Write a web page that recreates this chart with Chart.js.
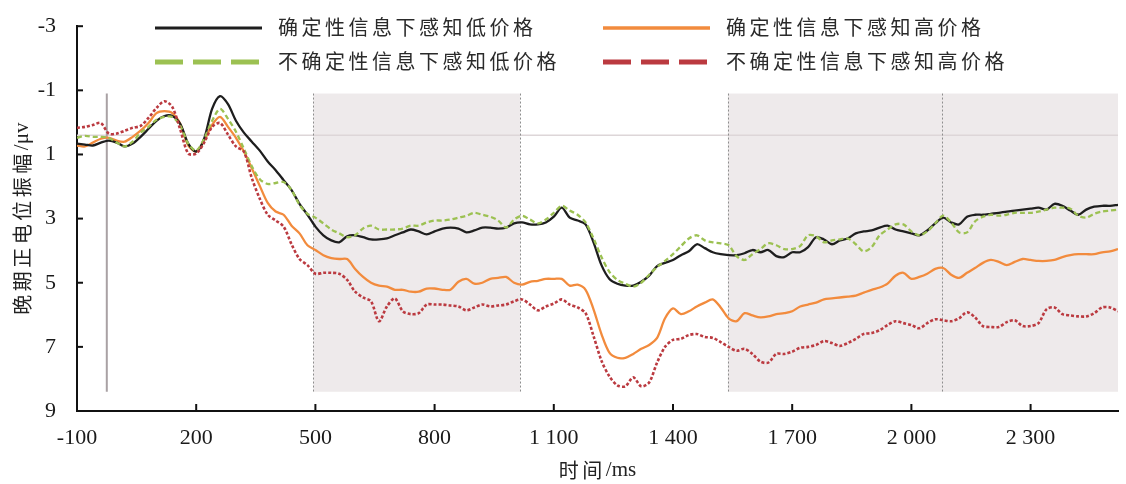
<!DOCTYPE html>
<html>
<head>
<meta charset="utf-8">
<script src="https://cdn.jsdelivr.net/npm/chart.js@4.4.1/dist/chart.umd.min.js"></script>
<style>
  html, body { margin: 0; padding: 0; background: #ffffff; }
  canvas { display: block; }
</style>
</head>
<body>
<canvas id="erp" width="1126" height="484"></canvas>
<script>
// Sampling grid of the averaged waveforms (ms)
const sampleStartMs = -100;
const sampleStepMs = 20;

// Late positive potential amplitude (μV), one value per 20 ms sample
const certainLow = [
  0.66, 0.69, 0.72, 0.63, 0.57, 0.63, 0.75, 0.66, 0.45, 0.20,
  -0.05, -0.20, -0.20, 0.05, 0.66, 0.91, 0.51, -0.42, -0.82, -0.57,
  -0.05, 0.32, 0.60, 0.88, 1.22, 1.49, 1.80, 2.11, 2.54, 2.88,
  3.25, 3.52, 3.68, 3.74, 3.55, 3.52, 3.58, 3.65, 3.65, 3.62,
  3.52, 3.43, 3.34, 3.40, 3.49, 3.40, 3.31, 3.28, 3.31, 3.43,
  3.37, 3.28, 3.28, 3.31, 3.28, 3.15, 3.12, 3.18, 3.18, 3.12,
  2.94, 2.66, 2.97, 3.06, 3.18, 3.74, 4.45, 4.88, 5.03, 5.09,
  5.09, 4.97, 4.78, 4.48, 4.38, 4.29, 4.14, 4.02, 3.80, 3.92,
  4.05, 4.11, 4.14, 4.14, 4.08, 3.98, 4.05, 3.98, 4.17, 4.20,
  4.05, 4.05, 3.89, 3.58, 3.65, 3.80, 3.68, 3.62, 3.46, 3.40,
  3.37, 3.28, 3.22, 3.34, 3.40, 3.46, 3.52, 3.37, 3.15, 2.97,
  3.12, 3.18, 2.94, 2.88, 2.88, 2.85, 2.82, 2.78, 2.75, 2.72,
  2.69, 2.66, 2.72, 2.54, 2.60, 2.75, 2.88, 2.72, 2.63, 2.60,
  2.60, 2.57
];
const certainHigh = [
  0.72, 0.75, 0.63, 0.51, 0.48, 0.57, 0.60, 0.45, 0.26, 0.02,
  -0.29, -0.35, -0.29, 0.05, 0.72, 0.91, 0.57, 0.08, -0.17, 0.14,
  0.48, 0.91, 1.43, 1.98, 2.51, 2.78, 2.88, 3.22, 3.46, 3.83,
  3.98, 4.14, 4.23, 4.26, 4.26, 4.57, 4.82, 5.00, 5.09, 5.12,
  5.22, 5.22, 5.28, 5.28, 5.18, 5.18, 5.22, 5.22, 4.97, 4.88,
  5.03, 5.00, 4.88, 4.85, 4.82, 5.00, 5.06, 4.97, 4.94, 4.88,
  4.88, 4.88, 5.09, 5.06, 5.22, 5.83, 6.60, 7.18, 7.34, 7.34,
  7.22, 7.06, 6.94, 6.72, 6.11, 5.80, 5.98, 5.89, 5.74, 5.62,
  5.52, 5.77, 6.11, 6.20, 5.95, 6.02, 6.08, 6.05, 5.98, 5.95,
  5.89, 5.74, 5.68, 5.62, 5.52, 5.49, 5.46, 5.43, 5.40, 5.31,
  5.22, 5.15, 5.03, 4.78, 4.69, 4.88, 4.82, 4.72, 4.57, 4.54,
  4.75, 4.85, 4.69, 4.54, 4.38, 4.29, 4.35, 4.45, 4.35, 4.26,
  4.29, 4.32, 4.32, 4.29, 4.20, 4.14, 4.11, 4.11, 4.11, 4.05,
  4.02, 3.95
];
const uncertainLow = [
  0.48, 0.42, 0.45, 0.45, 0.48, 0.63, 0.75, 0.60, 0.32, 0.14,
  -0.08, -0.17, -0.17, 0.11, 0.66, 0.88, 0.51, -0.05, -0.42, -0.11,
  0.29, 0.82, 1.37, 1.77, 1.92, 1.89, 1.86, 2.11, 2.57, 2.85,
  2.97, 3.15, 3.34, 3.46, 3.58, 3.52, 3.31, 3.22, 3.34, 3.34,
  3.34, 3.31, 3.22, 3.22, 3.12, 3.06, 3.06, 3.03, 2.97, 2.91,
  2.82, 2.88, 2.94, 3.06, 3.28, 3.03, 2.91, 3.03, 3.15, 3.03,
  2.82, 2.60, 2.75, 2.88, 3.12, 3.62, 4.20, 4.66, 4.91, 5.03,
  5.12, 5.00, 4.75, 4.51, 4.32, 4.11, 3.86, 3.62, 3.52, 3.68,
  3.74, 3.77, 3.83, 4.17, 4.29, 4.11, 3.95, 3.77, 3.83, 3.95,
  3.95, 3.86, 3.52, 3.55, 3.74, 3.68, 3.65, 3.62, 3.80, 4.02,
  3.89, 3.52, 3.34, 3.18, 3.18, 3.40, 3.52, 3.40, 3.15, 2.91,
  3.12, 3.43, 3.43, 3.09, 2.94, 2.88, 2.91, 2.88, 2.82, 2.82,
  2.82, 2.78, 2.72, 2.66, 2.66, 2.69, 2.91, 2.97, 2.85, 2.78,
  2.75, 2.72
];
const uncertainHigh = [
  0.17, 0.14, 0.08, 0.02, 0.35, 0.35, 0.26, 0.17, 0.11, -0.14,
  -0.45, -0.66, -0.48, 0.23, 0.97, 0.97, 0.63, 0.14, 0.02, 0.38,
  0.75, 0.91, 1.74, 2.38, 2.88, 3.06, 3.25, 3.80, 4.26, 4.45,
  4.72, 4.69, 4.69, 4.72, 4.91, 5.28, 5.46, 5.58, 6.20, 5.74,
  5.49, 5.89, 5.98, 5.95, 5.68, 5.68, 5.68, 5.71, 5.74, 5.86,
  5.77, 5.68, 5.74, 5.71, 5.68, 5.58, 5.52, 5.68, 5.86, 5.74,
  5.65, 5.52, 5.68, 5.77, 5.95, 6.66, 7.43, 7.92, 8.20, 8.23,
  7.95, 8.23, 8.11, 7.49, 7.00, 6.78, 6.75, 6.63, 6.60, 6.69,
  6.72, 6.85, 7.00, 7.12, 7.06, 7.22, 7.46, 7.49, 7.22, 7.22,
  7.15, 7.03, 7.00, 6.94, 6.82, 6.88, 6.97, 6.88, 6.75, 6.60,
  6.57, 6.48, 6.32, 6.20, 6.26, 6.32, 6.42, 6.26, 6.14, 6.17,
  6.20, 6.11, 5.92, 6.08, 6.35, 6.38, 6.38, 6.23, 6.17, 6.35,
  6.35, 6.26, 5.83, 5.77, 5.98, 6.02, 6.05, 6.05, 5.95, 5.77,
  5.77, 5.89
];

const seriesLabels = [
  '确定性信息下感知低价格',
  '确定性信息下感知高价格',
  '不确定性信息下感知低价格',
  '不确定性信息下感知高价格'
];

// Axis ticks and titles
const xTickValues = [-100, 200, 500, 800, 1100, 1400, 1700, 2000, 2300];
const xTickLabels = ['-100', '200', '500', '800', '1 100', '1 400', '1 700', '2 000', '2 300'];
const yTickValues = [-3, -1, 1, 3, 5, 7, 9];
const yTickLabels = ['-3', '-1', '1', '3', '5', '7', '9'];
const xTitleParts = ['时间', '/ms'];
const yTitleParts = ['晚期正电位振幅', '/μv'];

// Analysis windows and reference markers
const analysisWindowsMs = [[495, 1015], [1538, 2520]];
const windowDividersMs = [495, 1015, 1538, 2077];
const markerMs = -25;
const baselineUv = 0.4;
const windowTopUv = -0.9;
const windowBottomUv = 8.4;

const times = certainLow.map((_, i) => sampleStartMs + i * sampleStepMs);
const toPoints = (vals) => vals.map((v, i) => ({ x: times[i], y: v }));

const serif = "'Liberation Serif', 'Times New Roman', serif";
const cjk = "'Noto Sans CJK SC', 'Liberation Serif', sans-serif";

const datasets = [
  { label: seriesLabels[0], data: toPoints(certainLow), borderColor: '#1e1e1e', borderWidth: 2.3,
    borderDash: [], order: 2, legendDash: [], legendWidth: 3 },
  { label: seriesLabels[1], data: toPoints(certainHigh), borderColor: '#f28b3d', borderWidth: 2.3,
    borderDash: [], order: 3, legendDash: [], legendWidth: 3.5 },
  { label: seriesLabels[2], data: toPoints(uncertainLow), borderColor: '#9cc152', borderWidth: 2.3,
    borderDash: [5, 3], order: 1, legendDash: [28, 10], legendWidth: 5 },
  { label: seriesLabels[3], data: toPoints(uncertainHigh), borderColor: '#bb3a40', borderWidth: 2.6,
    borderDash: [3, 2], order: 0, legendDash: [28, 10], legendWidth: 5 }
];
datasets.forEach(d => {
  d.pointRadius = 0;
  d.tension = 0.3;
  d.fill = false;
  d.borderJoinStyle = 'round';
});

// Draw a title made of a CJK run (letter-spaced) followed by a Latin run
function drawTitle(ctx, parts, cx, cy) {
  ctx.textBaseline = 'middle';
  ctx.textAlign = 'left';
  ctx.font = '20px ' + cjk;
  ctx.letterSpacing = '3.5px';
  const w1 = ctx.measureText(parts[0]).width;
  ctx.font = '21px ' + serif;
  ctx.letterSpacing = '0px';
  const w2 = ctx.measureText(parts[1]).width;
  const start = cx - (w1 + w2) / 2;
  ctx.font = '20px ' + cjk;
  ctx.letterSpacing = '3.5px';
  ctx.fillText(parts[0], start, cy);
  ctx.font = '21px ' + serif;
  ctx.letterSpacing = '0px';
  ctx.fillText(parts[1], start + w1, cy);
}

const erpDecor = {
  id: 'erpDecor',
  beforeDatasetsDraw(chart) {
    const { ctx, chartArea, scales: { x, y } } = chart;
    const top = y.getPixelForValue(windowTopUv);
    const bottom = y.getPixelForValue(windowBottomUv);
    ctx.save();
    ctx.fillStyle = '#eeeaeb';
    analysisWindowsMs.forEach(([a, b]) => {
      const xa = x.getPixelForValue(a);
      const xb = x.getPixelForValue(b);
      ctx.fillRect(xa, top, xb - xa, bottom - top);
    });
    // baseline reference
    const by = y.getPixelForValue(baselineUv);
    ctx.strokeStyle = '#ddd6d8';
    ctx.lineWidth = 1.6;
    ctx.beginPath();
    ctx.moveTo(chartArea.left, by);
    ctx.lineTo(chartArea.right, by);
    ctx.stroke();
    // window boundaries
    ctx.strokeStyle = '#8e8e8e';
    ctx.lineWidth = 1;
    ctx.setLineDash([2, 2]);
    windowDividersMs.forEach(t => {
      const px = Math.round(x.getPixelForValue(t)) + 0.5;
      ctx.beginPath();
      ctx.moveTo(px, top);
      ctx.lineTo(px, bottom);
      ctx.stroke();
    });
    ctx.setLineDash([]);
    // stimulus marker
    const mx = x.getPixelForValue(markerMs);
    ctx.strokeStyle = '#a9a1a4';
    ctx.lineWidth = 2;
    ctx.beginPath();
    ctx.moveTo(mx, top);
    ctx.lineTo(mx, bottom);
    ctx.stroke();
    ctx.restore();
  },
  afterDraw(chart) {
    const { ctx, chartArea, scales: { x, y } } = chart;
    ctx.save();
    // inward tick marks
    ctx.strokeStyle = '#111111';
    ctx.lineWidth = 2;
    xTickValues.forEach(v => {
      const px = x.getPixelForValue(v);
      ctx.beginPath();
      ctx.moveTo(px, chartArea.bottom);
      ctx.lineTo(px, chartArea.bottom - 7);
      ctx.stroke();
    });
    yTickValues.forEach(v => {
      const py = y.getPixelForValue(v);
      ctx.beginPath();
      ctx.moveTo(chartArea.left, py);
      ctx.lineTo(chartArea.left + 6, py);
      ctx.stroke();
    });

    // axis titles
    ctx.fillStyle = '#222222';
    drawTitle(ctx, xTitleParts, (chartArea.left + chartArea.right) / 2, 470);
    ctx.save();
    ctx.translate(22, (chartArea.top + chartArea.bottom) / 2);
    ctx.rotate(-Math.PI / 2);
    drawTitle(ctx, yTitleParts, 0, 0);
    ctx.restore();

    // legend: two columns, two rows
    const cols = [155, 603];
    const rows = [27, 61];
    const sampleLen = 107;
    chart.data.datasets.forEach((ds, i) => {
      const cx = cols[i % 2];
      const cy = rows[Math.floor(i / 2)];
      ctx.strokeStyle = ds.borderColor;
      ctx.lineWidth = ds.legendWidth;
      ctx.setLineDash(ds.legendDash);
      ctx.lineCap = 'butt';
      ctx.beginPath();
      ctx.moveTo(cx, cy + 1);
      ctx.lineTo(cx + sampleLen, cy + 1);
      ctx.stroke();
      ctx.setLineDash([]);
      ctx.fillStyle = '#2a2a2a';
      ctx.font = '20px ' + cjk;
      ctx.letterSpacing = '3.5px';
      ctx.textAlign = 'left';
      ctx.textBaseline = 'middle';
      ctx.fillText(ds.label, cx + sampleLen + 16, cy);
    });
    ctx.restore();
  }
};

new Chart(document.getElementById('erp'), {
  type: 'line',
  data: { datasets },
  options: {
    responsive: false,
    animation: false,
    devicePixelRatio: 1,
    layout: { padding: { top: 21, right: 8, left: 0, bottom: 0 } },
    plugins: { legend: { display: false }, tooltip: { enabled: false } },
    scales: {
      x: {
        type: 'linear',
        min: -100,
        max: 2520,
        grid: { display: false },
        border: { display: true, color: '#111111', width: 2 },
        afterBuildTicks(scale) { scale.ticks = xTickValues.map(v => ({ value: v })); },
        afterFit(scale) { scale.height = 73; },
        ticks: {
          padding: 6,
          color: '#1a1a1a',
          font: { family: serif, size: 22 },
          maxRotation: 0,
          autoSkip: false,
          callback: (v) => xTickLabels[xTickValues.indexOf(v)]
        }
      },
      y: {
        type: 'linear',
        reverse: true,
        min: -3,
        max: 9,
        grid: { display: false },
        border: { display: true, color: '#111111', width: 2 },
        afterBuildTicks(scale) { scale.ticks = yTickValues.map(v => ({ value: v })); },
        afterFit(scale) { scale.width = 77; },
        ticks: {
          padding: 13,
          color: '#1a1a1a',
          font: { family: serif, size: 22 },
          autoSkip: false,
          callback: (v) => yTickLabels[yTickValues.indexOf(v)]
        }
      }
    }
  },
  plugins: [erpDecor]
});
</script>
</body>
</html>
